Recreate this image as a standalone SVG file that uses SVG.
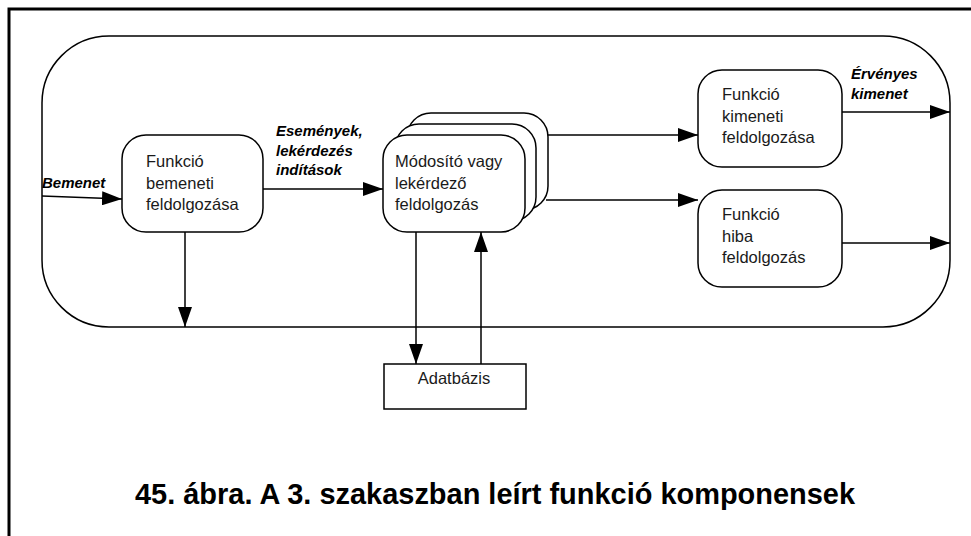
<svg xmlns="http://www.w3.org/2000/svg" width="971" height="536" viewBox="0 0 971 536">
<style>
.ln{fill:none;stroke:#000;stroke-width:1.5}
.box{fill:#fff;stroke:#000;stroke-width:1.5}
.t{font-family:"Liberation Sans",Arial,sans-serif;font-size:16.5px;fill:#1a1a1a}
.lb{font-family:"Liberation Sans",Arial,sans-serif;font-size:15px;font-weight:bold;font-style:italic;fill:#000}
.cap{font-family:"Liberation Sans",Arial,sans-serif;font-size:29px;font-weight:bold;fill:#000}
</style>
<defs>
<marker id="ah" viewBox="0 0 20 14" refX="20" refY="7" markerWidth="20" markerHeight="14" markerUnits="userSpaceOnUse" orient="auto">
<path d="M0,0 L20,7 L0,14 Z" fill="#000"/>
</marker>
</defs>
<rect width="971" height="536" fill="#fff"/>
<path d="M9,536 V9 H971" fill="none" stroke="#000" stroke-width="3"/>
<g id="container">
<rect x="42" y="36" width="908" height="291" rx="67" ry="67" class="ln"/>
</g>
<g id="connectors">
<line x1="42" y1="196" x2="122" y2="199" class="ln" marker-end="url(#ah)"/>
<line x1="263" y1="189" x2="383" y2="189" class="ln" marker-end="url(#ah)"/>
<line x1="185" y1="232" x2="185" y2="327" class="ln" marker-end="url(#ah)"/>
<line x1="548" y1="135" x2="698" y2="135" class="ln" marker-end="url(#ah)"/>
<line x1="546" y1="200" x2="698" y2="200" class="ln" marker-end="url(#ah)"/>
<line x1="842" y1="112" x2="950" y2="112" class="ln" marker-end="url(#ah)"/>
<line x1="842" y1="243" x2="950" y2="243" class="ln" marker-end="url(#ah)"/>
<line x1="416" y1="232" x2="416" y2="364" class="ln" marker-end="url(#ah)"/>
<line x1="481" y1="364" x2="481" y2="232" class="ln" marker-end="url(#ah)"/>
</g>
<g id="labels">
<text class="lb" x="42" y="188">Bemenet</text>
<text class="lb" x="276" y="136">Események,</text>
<text class="lb" x="276" y="155.5">lekérdezés</text>
<text class="lb" x="276" y="175">indítások</text>
<text class="lb" x="851" y="79">Érvényes</text>
<text class="lb" x="851" y="99">kimenet</text>
</g>
<g id="node-bemeneti">
<rect x="122" y="135" width="141" height="97" rx="24" ry="24" class="box"/>
<text class="t" x="146" y="167">Funkció</text>
<text class="t" x="146" y="188.5">bemeneti</text>
<text class="t" x="146" y="210">feldolgozása</text>
</g>
<g id="node-modosito">
<rect x="407" y="113" width="141" height="97" rx="24" ry="24" class="box"/>
<rect x="395" y="124" width="141" height="97" rx="24" ry="24" class="box"/>
<rect x="383" y="135" width="142" height="97" rx="24" ry="24" class="box"/>
<text class="t" x="395" y="167">Módosító vagy</text>
<text class="t" x="395" y="188.5">lekérdező</text>
<text class="t" x="395" y="210">feldolgozás</text>
</g>
<g id="node-kimeneti">
<rect x="698" y="70" width="144" height="97" rx="24" ry="24" class="box"/>
<text class="t" x="722" y="100">Funkció</text>
<text class="t" x="722" y="121.5">kimeneti</text>
<text class="t" x="722" y="143">feldolgozása</text>
</g>
<g id="node-hiba">
<rect x="698" y="190" width="144" height="97" rx="24" ry="24" class="box"/>
<text class="t" x="722" y="220">Funkció</text>
<text class="t" x="722" y="241.5">hiba</text>
<text class="t" x="722" y="263">feldolgozás</text>
</g>
<g id="node-adatbazis">
<rect x="384" y="364" width="142" height="45" class="box"/>
<text class="t" x="454" y="384" text-anchor="middle">Adatbázis</text>
</g>
<text class="cap" x="135" y="504" textLength="720" lengthAdjust="spacingAndGlyphs">45. ábra. A 3. szakaszban leírt funkció komponensek</text>
</svg>
